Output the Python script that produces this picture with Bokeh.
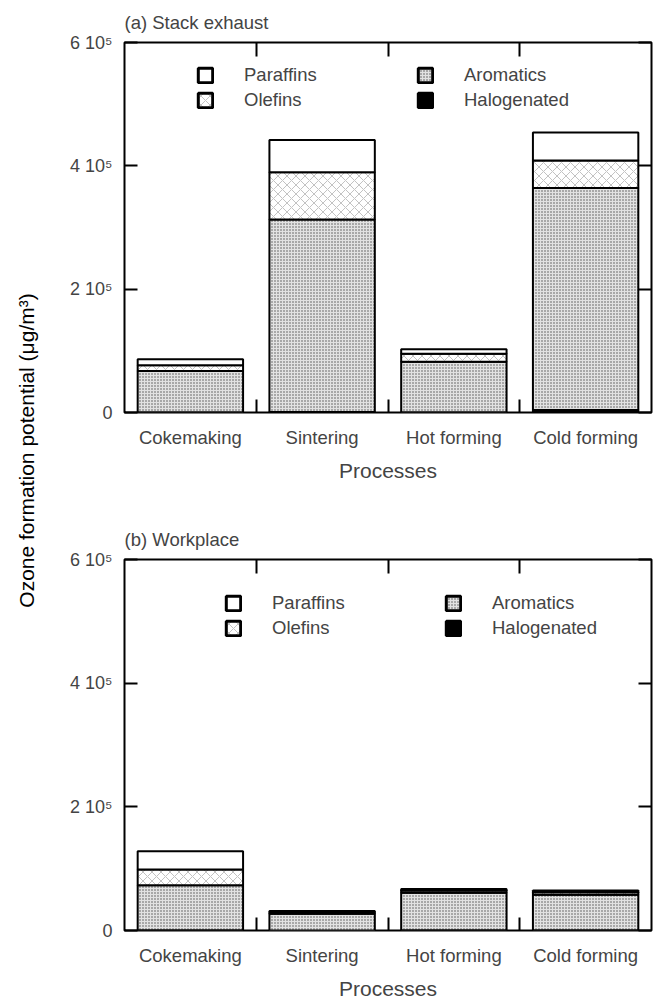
import numpy as np
from bokeh.plotting import figure
from bokeh.models import (ColumnDataSource, Range1d, LinearAxis, FixedTicker,
                          Legend, LegendItem)
from bokeh.layouts import row, column
from bokeh.transform import stack
from bokeh.core.properties import value
from bokeh.embed import file_html
from bokeh.resources import INLINE

# ---------------- data ----------------
categories = ["Cokemaking", "Sintering", "Hot forming", "Cold forming"]
series_bottom_up = ["Halogenated", "Aromatics", "Olefins", "Paraffins"]
legend_order = ["Paraffins", "Olefins", "Aromatics", "Halogenated"]

# (a) Stack exhaust
stack_halogenated = [500, 1000, 500, 4000]
stack_aromatics = [66900, 311800, 82000, 359900]
stack_olefins = [9300, 76900, 12900, 44800]
stack_paraffins = [9500, 52300, 7100, 45300]

# (b) Workplace
work_halogenated = [300, 200, 400, 300]
work_aromatics = [73000, 26800, 60600, 57700]
work_olefins = [25400, 2800, 3500, 4000]
work_paraffins = [29500, 1700, 2500, 2500]

y_ticks = [0, 200000, 400000, 600000]
y_tick_labels = ["0", "2 10\u2075", "4 10\u2075", "6 10\u2075"]
x_label = "Processes"
y_label = "Ozone formation potential (\u03bcg/m\u00b3)"
titles = ["(a) Stack exhaust", "(b) Workplace"]

# ---------------- style ----------------
FONT = "Liberation Sans"
FIG_W = 606
styles = {
    "Paraffins": dict(fill_color="white"),
    "Olefins": dict(fill_color="white", hatch_pattern="diagonal_cross",
                    hatch_color="#999999", hatch_scale=9, hatch_weight=0.6),
    "Aromatics": dict(fill_color="#e2e2e2", hatch_pattern="dot",
                      hatch_color="#505050", hatch_scale=3, hatch_weight=1),
    "Halogenated": dict(fill_color="black"),
}


def tick_axis(ticks, tick_len=13):
    return LinearAxis(ticker=FixedTicker(ticks=ticks), axis_line_color=None,
                      major_tick_in=tick_len, major_tick_out=0,
                      major_tick_line_width=2, minor_tick_line_color=None,
                      major_label_text_font_size="1px",
                      major_label_text_color=None, major_label_standoff=0)


def make_panel(title_text, data, height, border_top, border_bottom, legend_loc):
    n = len(categories)
    xs = [i + 0.5 for i in range(n)]
    src = ColumnDataSource(dict(x=xs, **data))
    p = figure(width=FIG_W, height=height, x_range=Range1d(0, n),
               y_range=Range1d(0, 600000), output_backend="svg",
               toolbar_location=None, x_axis_type=None, y_axis_type=None,
               min_border_left=76, min_border_right=3,
               min_border_top=border_top, min_border_bottom=border_bottom,
               title=title_text)
    p.outline_line_color = "black"
    p.outline_line_width = 2
    p.title.text_font = FONT
    p.title.text_font_size = "18.5px"
    p.title.text_font_style = "normal"
    p.title.align = "left"
    p.title.standoff = 19

    done = []
    for name in series_bottom_up:
        bottom = stack(*done) if done else 0
        p.vbar(x="x", width=0.8, bottom=bottom, top=stack(*done, name),
               source=src, line_color="black", line_width=2, **styles[name])
        done.append(name)

    # axes: inward ticks on all four sides
    p.add_layout(tick_axis(list(range(1, n))), "below")
    lab = LinearAxis(ticker=FixedTicker(ticks=xs), axis_line_color=None,
                     major_tick_line_color=None, minor_tick_line_color=None,
                     major_label_overrides={x: c for x, c in zip(xs, categories)},
                     major_label_text_font=FONT, major_label_text_font_size="18.5px",
                     major_label_standoff=8, axis_label=x_label,
                     axis_label_text_font=FONT, axis_label_text_font_size="21px",
                     axis_label_text_font_style="normal", axis_label_standoff=8)
    p.add_layout(lab, "below")
    p.add_layout(tick_axis(list(range(1, n)), 14), "above")
    left = LinearAxis(ticker=FixedTicker(ticks=y_ticks), axis_line_color=None,
                      major_tick_in=13, major_tick_out=0, major_tick_line_width=2,
                      minor_tick_line_color=None,
                      major_label_overrides={t: s for t, s in zip(y_ticks, y_tick_labels)},
                      major_label_text_font=FONT, major_label_text_font_size="18px",
                      major_label_standoff=12)
    p.add_layout(left, "left")
    p.add_layout(tick_axis(y_ticks), "right")

    items = []
    for name in legend_order:
        proxy = p.vbar(x=[-10], top=[1], width=0.8, line_color="black",
                       line_width=3, **styles[name])
        items.append(LegendItem(label=name, renderers=[proxy]))
    leg = Legend(items=items, location=legend_loc, ncols=2,
                 orientation="vertical", glyph_width=18, glyph_height=18,
                 label_standoff=30, label_width=169, label_height=20,
                 spacing=3, padding=0, margin=0, border_line_color=None,
                 background_fill_alpha=0, label_text_font=FONT,
                 label_text_font_size="18.5px")
    p.add_layout(leg)
    return p


p1 = make_panel(titles[0],
                dict(Halogenated=stack_halogenated, Aromatics=stack_aromatics,
                     Olefins=stack_olefins, Paraffins=stack_paraffins),
                height=498, border_top=41, border_bottom=86,
                legend_loc=(72, 301))
p2 = make_panel(titles[1],
                dict(Halogenated=work_halogenated, Aromatics=work_aromatics,
                     Olefins=work_olefins, Paraffins=work_paraffins),
                height=504, border_top=61, border_bottom=71,
                legend_loc=(100, 291))

TOTAL_H = 498 + 504
lf = figure(width=48, height=TOTAL_H, x_range=Range1d(0, 48),
            y_range=Range1d(0, TOTAL_H), output_backend="svg",
            toolbar_location=None, x_axis_type=None, y_axis_type=None,
            min_border=0)
lf.outline_line_color = None
lf.grid.visible = False
lf.text(x=[26], y=[TOTAL_H - 450], text=[y_label], angle=np.pi / 2,
        text_align="center", text_baseline="middle",
        text_font=value(FONT), text_font_size="21px", text_color="black")

layout = row(lf, column(p1, p2))
open("out.html", "w").write(file_html(layout, INLINE))
